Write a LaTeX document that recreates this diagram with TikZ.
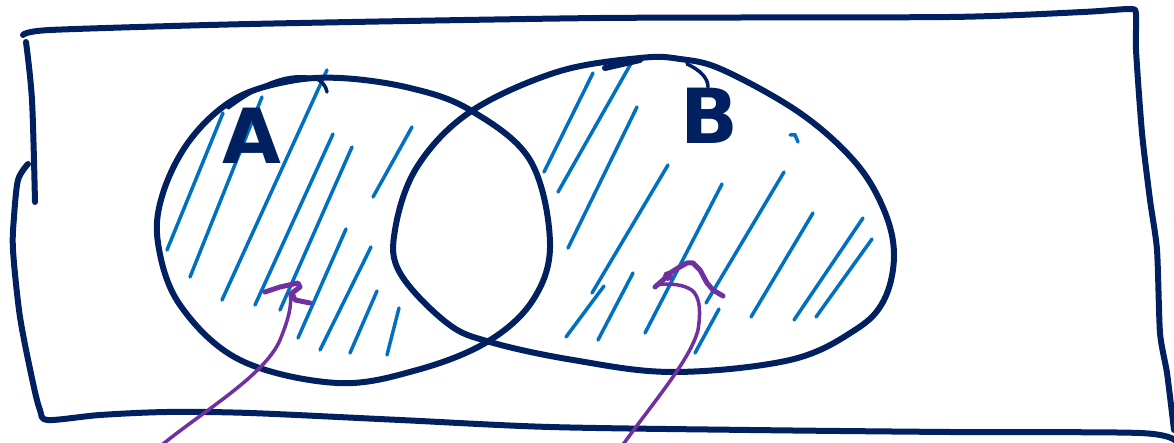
\documentclass[tikz,border=0pt]{standalone}
\usepackage{fontspec}
\setsansfont{DejaVu Sans}
\definecolor{navy}{HTML}{002060}
\definecolor{hblue}{HTML}{0070C0}
\definecolor{purp}{HTML}{7030A0}
\begin{document}
\begin{tikzpicture}[x=1pt,y=-1pt,
  outline/.style={draw=navy,line width=6pt,line cap=round,line join=round},
  thinline/.style={draw=navy,line width=3.5pt,line cap=round,line join=round},
  hatch/.style={draw=hblue,line width=3.5pt,line cap=round},
  pointer/.style={draw=purp,line width=3.5pt,line cap=round,line join=round},
  pointerhead/.style={draw=purp,line width=5pt,line cap=round,line join=round},
  setletter/.style={text=navy,font=\sffamily\bfseries\fontsize{76}{76}\selectfont,inner sep=0pt}]
\useasboundingbox (0,0) rectangle (1174,443);
% frame (universe)
\draw[outline] plot[smooth,tension=0.4] coordinates {(23,35)(50,30)(250,24)(600,18)(950,17)(1083,12)(1130,9)(1136,14)(1136,50)(1142,133)(1150,200)(1157,250)(1160,333)(1167,373)(1174,430)};
\draw[outline] plot[smooth,tension=0.5] coordinates {(26,42)(32,100)(35,202)};
\draw[outline] plot[smooth,tension=0.5] coordinates {(28,164)(18,180)(14,217)(13,250)(20,317)(33,383)(40,410)(48,420)(100,415)(167,412)(250,413)(400,420)(550,427)(750,430)(950,432)(1140,433)(1176,441)};
% hatching of A only
\foreach \a/\b in {{(167,250)}/{(223,113)},{(190,277)}/{(262,97)},{(222,300)}/{(327,70)},{(255,305)}/{(333,134)},{(280,310)}/{(352,147)},{(373,197)}/{(412,127)},{(298,338)}/{(346,229)},{(320,350)}/{(371,247)},{(350,353)}/{(377,291)},{(387,355)}/{(399,308)}}
  \draw[hatch] \a -- \b;
% hatching of B only
\foreach \a/\b in {{(544,172)}/{(593,73)},{(558,192)}/{(633,60)},{(568,248)}/{(637,107)},{(592,293)}/{(668,165)},{(566,337)}/{(604,286)},{(598,340)}/{(633,273)},{(645,333)}/{(722,184)},{(706,303)}/{(784,172)},{(695,353)}/{(719,309)},{(751,317)}/{(813,213)},{(794,320)}/{(863,218)},{(816,317)}/{(872,239)}}
  \draw[hatch] \a -- \b;
\draw[hatch] (790,135) -- (795,135) -- (798,142);
% set A
\draw[outline] plot[smooth cycle,tension=0.6] coordinates {(158,243)(163,193)(190,140)(233,100)(285,82)(340,78)(410,88)(470,110)(530,160)(550,243)(533,300)(487,342)(417,370)(337,383)(240,360)(180,305)};
\draw[thinline] (228,108) .. controls (255,88) and (285,72) .. (313,78) .. controls (322,80) and (326,86) .. (327,92);
% set B
\draw[outline] plot[smooth cycle,tension=0.6] coordinates {(395,230)(417,167)(470,112)(557,72)(640,58)(680,59)(723,70)(800,113)(855,162)(884,210)(894,255)(884,300)(855,330)(790,360)(673,372)(573,360)(490,342)(447,323)(400,273)};
\draw[outline] (605,68) -- (640,60);
\draw[thinline] (687,64) .. controls (700,70) and (708,78) .. (708,87);
% labels
\node[setletter] (A) at (252,136) {A};
\node[setletter] (B) at (709,116) {B};
% pointers
\coordinate (l-start) at (163,444);
\coordinate (l-tip) at (290,293);
\coordinate (r-start) at (622,446);
\coordinate (r-tip) at (657,285);
\draw[pointer] (l-start) .. controls (205,410) and (265,375) .. (280,340) .. controls (289,318) and (292,305) .. (l-tip);
\draw[pointerhead] (265,292) -- (280,287) -- (298,283) -- (300,287) -- (292,293) -- (295,300) -- (310,303);
\draw[pointer] (r-start) .. controls (655,400) and (690,360) .. (698,330) .. controls (702,305) and (698,292) .. (688,288) .. controls (680,284) and (665,283) .. (r-tip);
\draw[pointerhead] (655,287) -- (663,280) -- (670,273) -- (678,268) -- (687,263) -- (693,263) -- (700,270) -- (707,283) -- (713,290) -- (723,296);
\fill[purp] (668,276) circle (5);
\end{tikzpicture}
\end{document}
